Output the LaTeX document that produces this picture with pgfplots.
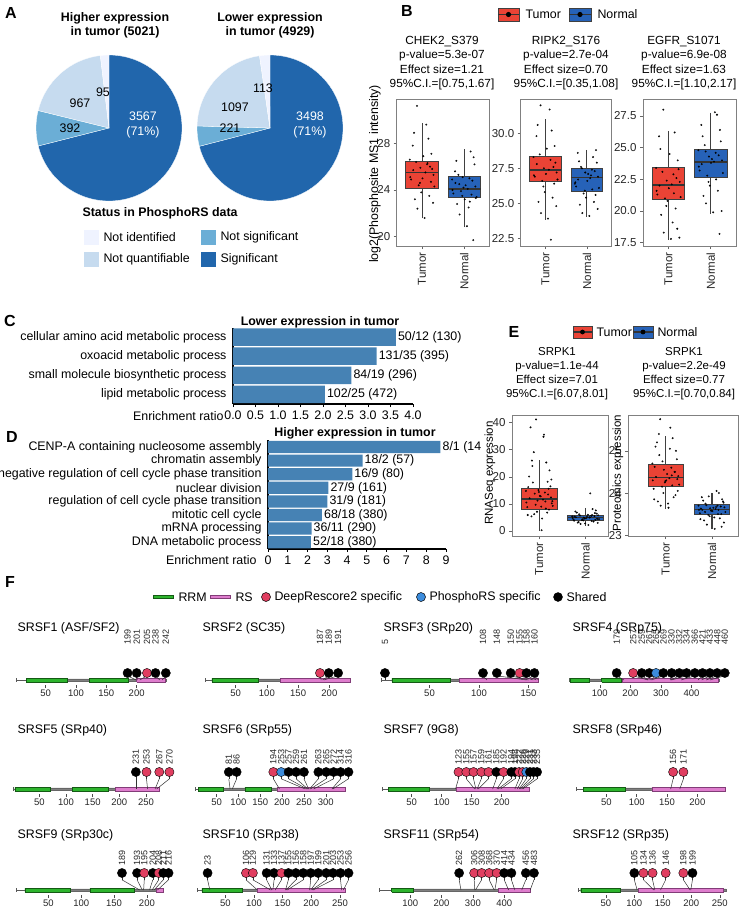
\documentclass[border=0pt]{standalone}
\usepackage{fontspec}
\setmainfont{Liberation Sans}
\usepackage{pgfplots}
\usepackage{pgfplotstable}
\pgfplotsset{compat=1.18, /pgf/number format/assume math mode=true}
\usepgfplotslibrary{statistics}

\definecolor{sigc}{RGB}{33,102,172}
\definecolor{nsigc}{RGB}{107,174,214}
\definecolor{nqc}{RGB}{198,219,239}
\definecolor{nidc}{RGB}{239,243,255}
\definecolor{tumorc}{RGB}{234,67,53}
\definecolor{normalc}{RGB}{38,98,184}
\definecolor{barc}{RGB}{70,130,180}
\definecolor{rrmc}{RGB}{45,180,45}
\definecolor{rrmd}{RGB}{20,90,20}
\definecolor{rsc}{RGB}{222,125,205}
\definecolor{rsd}{RGB}{130,60,120}
\definecolor{dsred}{RGB}{224,62,96}
\definecolor{prsblue}{RGB}{60,140,220}

\newcommand\ftxt{\fontsize{12.4}{14.4}\selectfont}
\newcommand\fbtit{\fontsize{11.8}{14.4}\selectfont}
\newcommand\ftick{\fontsize{11.5}{13}\selectfont}
\newcommand\fetit{\fontsize{11.5}{14}\selectfont}
\newcommand\fsmall{\fontsize{9.5}{11}\selectfont}
\newcommand\flab{\fontsize{9}{10}\selectfont}
\newcommand\fletter{\fontsize{16}{18}\selectfont\bfseries}

\tikzset{rrm/.style={fill=rrmc, draw=rrmd, line width=0.4pt},
         rs/.style={fill=rsc, draw=rsd, line width=0.4pt}}

\pgfplotsset{
  bplot/.style={scale only axis, anchor=north west, xmin=0.4, xmax=2.6, enlargelimits=false,
    xtick={1,2}, xticklabels={Tumor,Normal}, tick pos=left, tick align=outside, major tick length=3pt,
    xticklabel style={rotate=90, anchor=east, font=\ftick, text=black!85},
    yticklabel style={font=\ftick, text=black!85},
    axis line style={black!50, line width=0.7pt}, tick style={black!60, line width=0.6pt},
    boxplot/draw direction=y, boxplot/box extend=0.77, boxplot/whisker extend=0,
    boxplot/every median/.style={draw=black!80, line width=1.6pt},
    boxplot/every whisker/.style={draw=black!75, line width=1.1pt}},
  pts/.style={only marks, mark=*, mark size=0.75pt, mark options={draw=none, fill=black, fill opacity=0.5}},
  hbar/.style={scale only axis, anchor=north west, xbar, enlargelimits=false, clip=false,
    axis x line*=bottom, axis y line*=left, axis line style={line width=1.3pt, black},
    ytick style={draw=none}, x tick style={black, line width=0.8pt}, tick align=outside, major tick length=3pt,
    yticklabel style={font=\ftxt}, xticklabel style={font=\ftxt},
    nodes near coords, nodes near coords align={horizontal}, point meta=explicit symbolic,
    every node near coord/.append style={font=\ftxt, anchor=west, inner sep=2pt}},
  fpan/.style={scale only axis, anchor=south west, clip=false, xmin=0, ymin=-5, ymax=40, height=45pt,
    enlargelimits=false, axis y line=none, axis x line*=bottom, x axis line style={draw=none},
    xtick align=outside, major tick length=3pt, tick style={black!70, line width=0.5pt},
    xticklabel style={font=\fsmall, text=black!85, inner sep=2pt}}
}

\newcommand\Fbase[2]{%
  \addplot[black!65, line width=0.6pt] coordinates {(1,0)(#1,0)};
  \addplot[black!65, line width=0.6pt] coordinates {(1,-1.8)(1,1.8)};
  \addplot[fill=black!50, draw=black!60, line width=0.3pt] coordinates {(#2,-1.1)(#1,-1.1)(#1,1.1)(#2,1.1)(#2,-1.1)};}
\newcommand\Fdom[3]{\addplot[#3] coordinates {(#1,-1.9)(#2,-1.9)(#2,1.9)(#1,1.9)(#1,-1.9)};}
\newcommand\Flolli[3]{%
  \addplot[black!80, line width=0.5pt, quiver={u=0, v=-0.4*#1}] table[x=cx, y expr=#1] {#3};
  \addplot[black!80, line width=0.5pt, quiver={u=\thisrow{s}-\thisrow{cx}, v=-0.6*#1}] table[x=cx, y expr=0.6*#1] {#3};
  \addplot[scatter, only marks, mark=*, mark size=4.6pt, point meta=explicit symbolic,
    scatter/classes={s={draw=black,fill=black}, d={draw=black,fill=dsred}, p={draw=black,fill=prsblue}}]
    table[x=cx, y expr=#1, meta=t] {#3};
  \addplot[draw=none, mark=none, nodes near coords, point meta=explicit symbolic,
    every node near coord/.append style={font=\flab, text=black!85, yshift=#2, rotate=90, anchor=west, inner sep=0.5pt}]
    table[x=cx, y expr=#1, meta=s] {#3};}

% GO enrichment bars
\pgfplotstableread{
x y lab
2.04 1 {102/25 (472)}
2.63 2 {84/19 (296)}
3.19 3 {131/35 (395)}
3.62 4 {50/12 (130)}
}\tabC
\pgfplotstableread{
x y lab
2.17 1 {52/18 (380)}
2.20 2 {36/11 (290)}
2.73 3 {68/18 (380)}
3.00 4 {31/9 (181)}
3.05 5 {27/9 (161)}
4.26 6 {16/9 (80)}
4.78 7 {18/2 (57)}
8.72 8 {8/1 (14}
}\tabD

% lollipop sites: s = site, cx = drawn position, t = s shared / d DeepRescore2 / p PhosphoRS
\pgfplotstableread{
s cx t
199 185 s
201 200 s
205 217 d
238 231 s
242 248 s
}\tFa
\pgfplotstableread{
s cx t
187 185 d
189 199 s
191 214 s
}\tFb
\pgfplotstableread{
s cx t
5 5 s
108 104 s
148 118 s
150 132 s
155 141 d
158 148 s
160 156 s
}\tFc
\pgfplotstableread{
s cx t
179 155 s
257 209 d
259 237 s
261 262 s
265 284 p
269 308 s
330 335 s
332 360 s
334 384 s
366 411 s
421 436 s
433 460 s
448 484 s
460 509 s
}\tFd
\pgfplotstableread{
s cx t
231 231 s
253 251 d
267 275 d
270 294 d
}\tFe
\pgfplotstableread{
s cx t
81 78 s
86 96 s
194 180 d
253 198 p
257 215 s
259 232 s
261 250 s
263 283 s
265 301 s
272 318 s
314 334 s
316 352 s
}\tFf
\pgfplotstableread{
s cx t
123 128 d
155 141 d
157 153 d
159 166 d
161 178 d
185 191 s
192 203 d
194 216 s
198 222 s
222 229 d
226 235 d
229 241 p
231 247 s
233 253 s
235 259 s
}\tFg
\pgfplotstableread{
s cx t
156 160 d
171 177 d
}\tFh
\pgfplotstableread{
s cx t
189 162 s
193 185 s
195 196 d
204 209 s
208 218 d
211 225 s
216 233 s
}\tFi
\pgfplotstableread{
s cx t
23 19 s
106 86 d
129 98 d
131 122 s
133 135 s
137 148 d
155 160 s
156 173 s
158 186 s
197 199 s
199 212 s
201 226 s
203 238 s
253 251 s
256 265 s
}\tFj
\pgfplotstableread{
s cx t
262 256 s
306 304 d
308 328 d
368 352 d
370 376 d
414 400 s
434 423 s
456 469 s
483 495 s
}\tFk
\pgfplotstableread{
s cx t
105 100 s
134 116 d
136 132 d
146 155 d
198 186 d
199 202 s
}\tFl

\begin{document}
\begin{tikzpicture}
\useasboundingbox (0,0) rectangle (740pt,-915pt);

% ---------------- A: pies
\begin{axis}[hide axis, scale only axis, width=146pt, height=146pt, xmin=-1, xmax=1, ymin=-1, ymax=1,
  anchor=center, at={(109pt,-128pt)}]
\pgfplotsextra{
  \xdef\pstart{90}
  \foreach \v/\c in {3567/sigc,392/nsigc,967/nqc,95/nidc}{
    \pgfmathsetmacro\pend{\pstart-\v/5021*360}
    \fill[\c, draw=white, line width=0.3pt] (axis cs:0,0) -- ++(\pstart:73pt) arc[start angle=\pstart, end angle=\pend, radius=73pt] -- cycle;
    \xdef\pstart{\pend}
  }}
\end{axis}
\begin{axis}[hide axis, scale only axis, width=146pt, height=146pt, xmin=-1, xmax=1, ymin=-1, ymax=1,
  anchor=center, at={(270pt,-128pt)}]
\pgfplotsextra{
  \xdef\pstart{90}
  \foreach \v/\c in {3498/sigc,221/nsigc,1097/nqc,113/nidc}{
    \pgfmathsetmacro\pend{\pstart-\v/4929*360}
    \fill[\c, draw=white, line width=0.3pt] (axis cs:0,0) -- ++(\pstart:73pt) arc[start angle=\pstart, end angle=\pend, radius=73pt] -- cycle;
    \xdef\pstart{\pend}
  }}
\end{axis}

% ---------------- B: boxplots
\begin{axis}[bplot, at={(396.7pt,-99.3pt)}, width=93pt, height=146.7pt, ymin=19.2, ymax=31.77, ytick={20,24,28}]
\addplot[boxplot prepared={draw position=1, lower whisker=21.57, lower quartile=24.14, median=25.49, upper quartile=26.49, upper whisker=29.71}, fill=tumorc, draw=black!75, line width=0.8pt] coordinates {};
\addplot[boxplot prepared={draw position=2, lower whisker=20.8, lower quartile=23.34, median=24.09, upper quartile=25.14, upper whisker=27.51}, fill=normalc, draw=black!75, line width=0.8pt] coordinates {};
\addplot[pts] coordinates {(0.72,25.1)(1.12,26.2)(0.95,24.6)(1.24,25.8)(0.83,23.2)(1.03,26.9)(1.29,24.3)(0.78,27.8)(1.08,25.5)(0.89,22.4)(1.19,26.0)(0.74,24.9)(1.15,28.4)(0.98,23.8)(1.27,25.3)(0.86,26.4)(1.06,21.6)(0.79,25.7)(1.22,27.1)(0.92,24.4)(1.10,29.6)(0.71,26.6)(1.17,23.5)(0.96,25.9)(1.26,22.9)(0.81,28.9)(1.01,25.0)(1.21,24.7)(0.88,31.2)(1.13,26.3)
(1.72,24.0)(2.12,25.0)(1.95,23.5)(2.24,26.2)(1.83,22.8)(2.03,24.4)(2.29,23.4)(1.78,25.6)(2.08,24.1)(1.89,21.9)(2.19,24.8)(1.74,23.7)(2.15,27.3)(1.98,24.2)(2.27,23.3)(1.86,25.3)(2.06,20.9)(1.79,24.6)(2.22,26.8)(1.92,23.9)(2.10,22.5)(1.71,24.9)(2.17,23.6)(1.96,25.1)(2.26,24.3)(1.81,26.5)(2.01,23.2)(2.21,19.7)(1.88,24.5)(2.13,23.0)};
\end{axis}
\begin{axis}[bplot, at={(520.7pt,-99.3pt)}, width=91pt, height=146.7pt, ymin=21.95, ymax=32.43, ytick={22.5,25,27.5,30},
  yticklabel style={/pgf/number format/.cd, fixed, fixed zerofill, precision=1}]
\addplot[boxplot prepared={draw position=1, lower whisker=23.83, lower quartile=26.55, median=27.38, upper quartile=28.33, upper whisker=31.0}, fill=tumorc, draw=black!75, line width=0.8pt] coordinates {};
\addplot[boxplot prepared={draw position=2, lower whisker=24.05, lower quartile=25.88, median=26.83, upper quartile=27.5, upper whisker=28.81}, fill=normalc, draw=black!75, line width=0.8pt] coordinates {};
\addplot[pts] coordinates {(0.72,27.0)(1.12,28.1)(0.95,26.2)(1.24,27.9)(0.83,25.1)(1.03,28.9)(1.29,26.7)(0.78,29.8)(1.08,27.4)(0.89,24.3)(1.19,27.6)(0.74,26.9)(1.15,30.2)(0.98,25.8)(1.27,27.2)(0.86,28.5)(1.06,23.9)(0.79,27.8)(1.22,29.1)(0.92,26.6)(1.10,31.7)(0.71,28.3)(1.17,25.4)(0.96,27.5)(1.26,24.8)(0.81,30.6)(1.01,27.1)(1.21,26.4)(0.88,32.0)(1.13,22.4)
(1.72,26.5)(2.12,27.4)(1.95,25.9)(2.24,27.9)(1.83,24.9)(2.03,27.1)(2.29,26.1)(1.78,28.6)(2.08,26.8)(1.89,24.3)(2.19,27.3)(1.74,26.2)(2.15,28.3)(1.98,25.4)(2.27,26.9)(1.86,27.6)(2.06,24.1)(1.79,26.7)(2.22,28.8)(1.92,25.7)(2.10,27.0)(1.71,26.4)(2.17,25.1)(1.96,27.2)(2.26,24.6)(1.81,28.0)(2.01,26.6)(2.21,25.6)(1.88,27.5)(2.13,26.0)};
\end{axis}
\begin{axis}[bplot, at={(643pt,-99.3pt)}, width=93pt, height=146.7pt, ymin=17.24, ymax=28.82, ytick={17.5,20,22.5,25,27.5},
  yticklabel style={/pgf/number format/.cd, fixed, fixed zerofill, precision=1}]
\addplot[boxplot prepared={draw position=1, lower whisker=17.71, lower quartile=20.92, median=22.05, upper quartile=23.42, upper whisker=26.32}, fill=tumorc, draw=black!75, line width=0.8pt] coordinates {};
\addplot[boxplot prepared={draw position=2, lower whisker=19.79, lower quartile=22.66, median=23.89, upper quartile=24.87, upper whisker=27.76}, fill=normalc, draw=black!75, line width=0.8pt] coordinates {};
\addplot[pts] coordinates {(0.72,21.6)(1.12,22.9)(0.95,20.4)(1.24,23.3)(0.83,19.7)(1.03,24.5)(1.29,21.1)(0.78,25.9)(1.08,22.1)(0.89,18.3)(1.19,22.6)(0.74,21.3)(1.15,26.2)(0.98,20.8)(1.27,22.3)(0.86,23.1)(1.06,17.8)(0.79,22.0)(1.22,24.0)(0.92,21.0)(1.10,19.1)(0.71,23.4)(1.17,20.2)(0.96,22.4)(1.26,17.9)(0.81,24.9)(1.01,21.8)(1.21,18.6)(0.88,28.0)(1.13,21.4)
(1.72,23.5)(2.12,24.6)(1.95,22.3)(2.24,25.5)(1.83,21.2)(2.03,24.1)(2.29,23.0)(1.78,26.8)(2.08,23.9)(1.89,20.6)(2.19,24.4)(1.74,23.2)(2.15,27.6)(1.98,22.0)(2.27,24.0)(1.86,25.2)(2.06,19.9)(1.79,23.7)(2.22,26.4)(1.92,22.8)(2.10,27.8)(1.71,24.8)(2.17,21.6)(1.96,24.3)(2.26,20.0)(1.81,25.9)(2.01,23.8)(2.21,18.2)(1.88,24.7)(2.13,22.5)};
\end{axis}

% ---------------- C, D: enrichment bars
\begin{axis}[hbar, at={(233pt,-327.5pt)}, width=180pt, height=76.5pt, xmin=0, xmax=4, ymin=0.5, ymax=4.5, bar width=17.5pt,
  xtick={0,0.5,...,4}, xticklabel style={/pgf/number format/.cd, fixed, fixed zerofill, precision=1},
  ytick={1,2,3,4}, yticklabels={lipid metabolic process, small molecule biosynthetic process, oxoacid metabolic process, cellular amino acid metabolic process}]
\addplot[fill=barc, draw=none] table[x=x, y=y, meta=lab] {\tabC};
\end{axis}
\begin{axis}[hbar, at={(268pt,-440.2pt)}, width=178pt, height=108.8pt, xmin=0, xmax=9, ymin=0.5, ymax=8.5, bar width=12.2pt,
  xtick={0,1,...,9}, ytick={1,...,8},
  yticklabels={DNA metabolic process, mRNA processing, mitotic cell cycle, regulation of cell cycle phase transition, nuclear division, negative regulation of cell cycle phase transition, chromatin assembly, CENP-A containing nucleosome assembly}]
\addplot[fill=barc, draw=none] table[x=x, y=y, meta=lab] {\tabD};
\end{axis}

% ---------------- E: SRPK1 boxplots
\begin{axis}[bplot, at={(512pt,-415pt)}, width=96.3pt, height=121pt, xmin=0.41, xmax=2.49, ymin=-1.85, ymax=42.84, ytick={0,10,20,30,40}]
\addplot[boxplot prepared={draw position=1, lower whisker=0, lower quartile=8.0, median=11.8, upper quartile=15.8, upper whisker=26.2}, fill=tumorc, draw=black!75, line width=0.8pt] coordinates {};
\addplot[boxplot prepared={draw position=2, lower whisker=2.0, lower quartile=3.8, median=5.0, upper quartile=5.9, upper whisker=8.5}, fill=normalc, draw=black!75, line width=0.8pt] coordinates {};
\addplot[pts] coordinates {(0.72,10.5)(1.12,14.2)(0.95,7.1)(1.24,16.5)(0.83,5.4)(1.03,12.8)(1.29,9.3)(0.78,20.1)(1.08,11.6)(0.89,6.2)(1.19,13.5)(0.74,8.8)(1.15,25.3)(0.98,15.1)(1.27,10.2)(0.86,17.9)(1.06,4.6)(0.79,12.1)(1.22,22.4)(0.92,9.7)(1.10,35.6)(0.71,14.8)(1.17,6.8)(0.96,11.2)(1.26,19.0)(0.81,38.3)(1.01,13.0)(1.21,7.9)(0.88,29.1)(1.13,10.9)(0.76,16.2)(1.05,0.3)(1.25,12.4)(0.85,24.0)(1.14,8.3)(0.93,41.2)(1.20,15.6)(0.75,5.9)(1.09,34.8)(0.99,14.4)(1.28,11.0)(0.84,26.0)(1.04,9.0)(1.18,18.2)(0.90,13.8)
(1.72,4.8)(2.12,5.6)(1.95,3.9)(2.24,6.4)(1.83,3.1)(2.03,5.2)(2.29,4.4)(1.78,7.2)(2.08,5.0)(1.89,2.6)(2.19,5.5)(1.74,4.2)(2.15,8.1)(1.98,4.6)(2.27,5.8)(1.86,6.2)(2.06,2.2)(1.79,5.1)(2.22,7.6)(1.92,4.0)(2.10,13.9)(1.71,5.4)(2.17,3.5)(1.96,4.9)(2.26,3.0)(1.81,6.8)(2.01,4.7)(2.21,4.1)(1.88,5.7)(2.13,3.7)(1.76,5.3)(2.05,6.0)(2.25,4.5)(1.85,3.3)(2.14,5.9)(1.93,4.3)(2.20,6.6)(1.75,3.8)(2.09,5.0)(1.99,2.8)};
\end{axis}
\begin{axis}[bplot, at={(628.3pt,-415pt)}, width=110pt, height=121pt, xmin=0.19, xmax=2.57, ymin=22.98, ymax=25.85, ytick={23,24,25}]
\addplot[boxplot prepared={draw position=1, lower whisker=23.62, lower quartile=24.16, median=24.37, upper quartile=24.68, upper whisker=25.35}, fill=tumorc, draw=black!75, line width=0.8pt] coordinates {};
\addplot[boxplot prepared={draw position=2, lower whisker=23.14, lower quartile=23.49, median=23.61, upper quartile=23.72, upper whisker=24.01}, fill=normalc, draw=black!75, line width=0.8pt] coordinates {};
\addplot[pts] coordinates {(0.72,24.3)(1.12,24.6)(0.95,24.0)(1.24,24.8)(0.83,23.8)(1.03,24.45)(1.29,24.2)(0.78,25.1)(1.08,24.35)(0.89,23.7)(1.19,24.5)(0.74,24.1)(1.15,25.3)(0.98,24.25)(1.27,24.4)(0.86,24.9)(1.06,23.65)(0.79,24.38)(1.22,25.0)(0.92,24.15)(1.10,25.55)(0.71,24.7)(1.17,23.9)(0.96,24.55)(1.26,24.05)(0.81,25.2)(1.01,24.3)(1.21,23.95)(0.88,25.75)(1.13,24.42)(0.76,24.62)(1.05,23.75)(1.25,24.33)(0.85,25.4)(1.14,24.18)(0.93,24.75)(1.20,24.5)(0.75,23.85)(1.09,25.05)(0.99,24.28)
(1.72,23.6)(2.12,23.7)(1.95,23.45)(2.24,23.8)(1.83,23.35)(2.03,23.65)(2.29,23.55)(1.78,23.9)(2.08,23.62)(1.89,23.25)(2.19,23.68)(1.74,23.52)(2.15,24.0)(1.98,23.58)(2.27,23.66)(1.86,23.75)(2.06,23.15)(1.79,23.6)(2.22,23.85)(1.92,23.48)(2.10,24.05)(1.71,23.7)(2.17,23.4)(1.96,23.64)(2.26,23.3)(1.81,23.82)(2.01,23.57)(2.21,23.2)(1.88,23.71)(2.13,23.5)(1.76,23.63)(2.05,23.42)(2.25,23.77)(1.85,23.55)(2.14,23.6)(1.93,23.92)(2.20,23.5)(1.75,23.38)(2.09,23.67)(1.99,23.58)};
\end{axis}

% ---------------- F: SR protein lollipops
\begin{axis}[fpan, at={(15.3pt,-685pt)}, xmax=248, width=150.5pt, xtick={50,100,150,200}]
\Fbase{248}{18}\Fdom{18}{85}{rrm}\Fdom{122}{186}{rrm}\Fdom{200}{247}{rs}
\Flolli{7}{28pt}{\tFa}
\end{axis}
\begin{axis}[fpan, at={(204.4pt,-685pt)}, xmax=233, width=145.6pt, xtick={50,100,150,200}]
\Fbase{233}{12}\Fdom{12}{86}{rrm}\Fdom{121}{233}{rs}
\Flolli{7}{28pt}{\tFb}
\end{axis}
\begin{axis}[fpan, at={(380pt,-685pt)}, xmax=160, width=158.4pt, xtick={50,100,150}]
\Fbase{160}{12}\Fdom{12}{71}{rrm}\Fdom{80}{160}{rs}
\Flolli{7}{28pt}{\tFc}
\end{axis}
\begin{axis}[fpan, at={(569.3pt,-685pt)}, xmax=490, width=149.7pt, xtick={100,200,300,400}]
\Fbase{490}{2}\Fdom{2}{65}{rrm}\Fdom{106}{171}{rrm}\Fdom{174}{488}{rs}
\Flolli{7}{28pt}{\tFd}
\end{axis}

\begin{axis}[fpan, at={(12.7pt,-794pt)}, xmax=275, width=146.6pt, xtick={50,100,150,200,250}]
\Fbase{275}{4}\Fdom{4}{70}{rrm}\Fdom{112}{179}{rrm}\Fdom{192}{275}{rs}
\Flolli{17}{7pt}{\tFe}
\end{axis}
\begin{axis}[fpan, at={(194.7pt,-794pt)}, xmax=344, width=150.3pt, xtick={50,100,150,200,250,300}]
\Fbase{344}{8}\Fdom{8}{66}{rrm}\Fdom{115}{176}{rrm}\Fdom{188}{344}{rs}
\Flolli{17}{7pt}{\tFf}
\end{axis}
\begin{axis}[fpan, at={(381.7pt,-794pt)}, xmax=246, width=147.6pt, xtick={50,100,150,200}]
\Fbase{246}{11}\Fdom{11}{79}{rrm}\Fdom{124}{246}{rs}
\Flolli{17}{7pt}{\tFg}
\end{axis}
\begin{axis}[fpan, at={(576pt,-794pt)}, xmax=246, width=149.3pt, xtick={50,100,150,200}]
\Fbase{246}{12}\Fdom{12}{81}{rrm}\Fdom{125}{246}{rs}
\Flolli{17}{7pt}{\tFh}
\end{axis}

\begin{axis}[fpan, at={(15.7pt,-895pt)}, xmax=225, width=147.6pt, xtick={50,100,150,200}]
\Fbase{225}{14}\Fdom{14}{83}{rrm}\Fdom{113}{180}{rrm}\Fdom{214}{225}{rs}
\Flolli{17}{7pt}{\tFi}
\end{axis}
\begin{axis}[fpan, at={(196.7pt,-895pt)}, xmax=259, width=148.4pt, xtick={50,100,150,200,250}]
\Fbase{259}{9}\Fdom{9}{80}{rrm}\Fdom{105}{259}{rs}
\Flolli{17}{7pt}{\tFj}
\end{axis}
\begin{axis}[fpan, at={(379pt,-895pt)}, xmax=484, width=151.5pt, xtick={100,200,300,400}]
\Fbase{484}{40}\Fdom{40}{110}{rrm}\Fdom{381}{482}{rs}
\Flolli{17}{7pt}{\tFk}
\end{axis}
\begin{axis}[fpan, at={(577.3pt,-895pt)}, xmax=261, width=148.8pt, xtick={50,100,150,200,250}]
\Fbase{261}{6}\Fdom{6}{76}{rrm}\Fdom{107}{256}{rs}
\Flolli{17}{7pt}{\tFl}
\end{axis}

% ---------------- text and legends
\begin{scope}[x=1pt, y=-1pt]
\node[font=\fletter] at (11,13) {A};
\node[font=\fletter] at (407,11) {B};
\node[font=\fletter] at (10,321) {C};
\node[font=\fletter] at (12,437) {D};
\node[font=\fletter] at (514,332) {E};
\node[font=\fletter] at (10,582) {F};

% A
\node[font=\ftxt\bfseries, align=center] at (115,25) {Higher expression\\in tumor (5021)};
\node[font=\ftxt\bfseries, align=center] at (270,25) {Lower expression\\in tumor (4929)};
\node[font=\ftxt, align=center, text=white] at (143,125) {3567\\(71\%)};
\node[font=\ftxt] at (70,128) {392};
\node[font=\ftxt] at (80,103) {967};
\node[font=\ftxt] at (103,92) {95};
\node[font=\ftxt, align=center, text=white] at (310,125) {3498\\(71\%)};
\node[font=\ftxt] at (230,128) {221};
\node[font=\ftxt] at (235,107) {1097};
\node[font=\ftxt] at (263,88) {113};
\node[font=\ftxt\bfseries, anchor=west] at (79,213) {Status in PhosphoRS data};
\fill[nidc] (84,229.5) rectangle (99,244.5);
\node[font=\ftxt, anchor=west] at (100,237) {Not identified};
\fill[nsigc] (201,229.5) rectangle (216,244.5);
\node[font=\ftxt, anchor=west] at (217,237) {Not significant};
\fill[nqc] (84,251.5) rectangle (99,266.5);
\node[font=\ftxt, anchor=west] at (100,259) {Not quantifiable};
\fill[sigc] (201,251.5) rectangle (216,266.5);
\node[font=\ftxt, anchor=west] at (217,259) {Significant};

% B
\filldraw[fill=tumorc, draw=black!75, line width=0.8pt] (498,8) rectangle (519,21);
\draw[black!80, line width=1.2pt] (498,14.5) -- (519,14.5);
\fill[black] (508.5,14.5) circle[radius=2.6pt];
\node[font=\ftxt, anchor=west] at (522,14.5) {Tumor};
\filldraw[fill=normalc, draw=black!75, line width=0.8pt] (569,8) rectangle (591,21);
\draw[black!80, line width=1.2pt] (569,14.5) -- (591,14.5);
\fill[black] (580,14.5) circle[radius=2.6pt];
\node[font=\ftxt, anchor=west] at (594,14.5) {Normal};
\node[font=\fbtit, align=center] at (442,63.3) {CHEK2\_S379\\p-value=5.3e-07\\Effect size=1.21\\95\%C.I.=[0.75,1.67]};
\node[font=\fbtit, align=center] at (566,63.3) {RIPK2\_S176\\p-value=2.7e-04\\Effect size=0.70\\95\%C.I.=[0.35,1.08]};
\node[font=\fbtit, align=center] at (684,63.3) {EGFR\_S1071\\p-value=6.9e-08\\Effect size=1.63\\95\%C.I.=[1.10,2.17]};
\node[font=\ftxt, rotate=90] at (375,174) {log2(Phosphosite MS1 intensity)};

% C, D
\node[font=\ftxt\bfseries] at (320,322) {Lower expression in tumor};
\node[font=\ftxt, anchor=east] at (227,416) {Enrichment ratio};
\node[font=\ftxt\bfseries] at (355,433) {Higher expression in tumor};
\node[font=\ftxt, anchor=east] at (260,560) {Enrichment ratio};

% E
\filldraw[fill=tumorc, draw=black!75, line width=0.8pt] (573,326) rectangle (592,338);
\draw[black!80, line width=1.2pt] (573,332) -- (592,332);
\fill[black] (582.5,332) circle[radius=2.4pt];
\node[font=\ftxt, anchor=west] at (593,332) {Tumor};
\filldraw[fill=normalc, draw=black!75, line width=0.8pt] (633,326) rectangle (653,338);
\draw[black!80, line width=1.2pt] (633,332) -- (653,332);
\fill[black] (643,332) circle[radius=2.4pt];
\node[font=\ftxt, anchor=west] at (654,332) {Normal};
\node[font=\fetit, align=center] at (557,374) {SRPK1\\p-value=1.1e-44\\Effect size=7.01\\95\%C.I.=[6.07,8.01]};
\node[font=\fetit, align=center] at (684,374) {SRPK1\\p-value=2.2e-49\\Effect size=0.77\\95\%C.I.=[0.70,0.84]};
\node[font=\ftick, rotate=90] at (490,473) {RNASeq expression};
\node[font=\ftick, rotate=90] at (618,473) {Proteomics expression};

% F legend and titles
\filldraw[fill=rrmc, draw=rrmd, line width=0.5pt] (153,595.5) rectangle (173,598.5);
\node[font=\ftxt, anchor=west] at (175,597) {RRM};
\filldraw[fill=rsc, draw=rsd, line width=0.5pt] (210,595.5) rectangle (230,598.5);
\node[font=\ftxt, anchor=west] at (232,597) {RS};
\filldraw[fill=dsred, draw=black, line width=0.5pt] (266,597) circle[radius=4.5pt];
\node[font=\ftxt, anchor=west] at (271,597) {DeepRescore2 specific};
\filldraw[fill=prsblue, draw=black, line width=0.5pt] (421,597) circle[radius=4.5pt];
\node[font=\ftxt, anchor=west] at (426,597) {PhosphoRS specific};
\filldraw[fill=black] (558,597) circle[radius=4.5pt];
\node[font=\ftxt, anchor=west] at (563,597) {Shared};

\node[font=\ftxt, anchor=west] at (14,628) {SRSF1 (ASF/SF2)};
\node[font=\ftxt, anchor=west] at (199,628) {SRSF2 (SC35)};
\node[font=\ftxt, anchor=west] at (380,628) {SRSF3 (SRp20)};
\node[font=\ftxt, anchor=west] at (569,628) {SRSF4 (SRp75)};
\node[font=\ftxt, anchor=west] at (14,730) {SRSF5 (SRp40)};
\node[font=\ftxt, anchor=west] at (199,730) {SRSF6 (SRp55)};
\node[font=\ftxt, anchor=west] at (380,730) {SRSF7 (9G8)};
\node[font=\ftxt, anchor=west] at (569,730) {SRSF8 (SRp46)};
\node[font=\ftxt, anchor=west] at (14,835) {SRSF9 (SRp30c)};
\node[font=\ftxt, anchor=west] at (199,835) {SRSF10 (SRp38)};
\node[font=\ftxt, anchor=west] at (380,835) {SRSF11 (SRp54)};
\node[font=\ftxt, anchor=west] at (569,835) {SRSF12 (SRp35)};
\end{scope}
\end{tikzpicture}
\end{document}
